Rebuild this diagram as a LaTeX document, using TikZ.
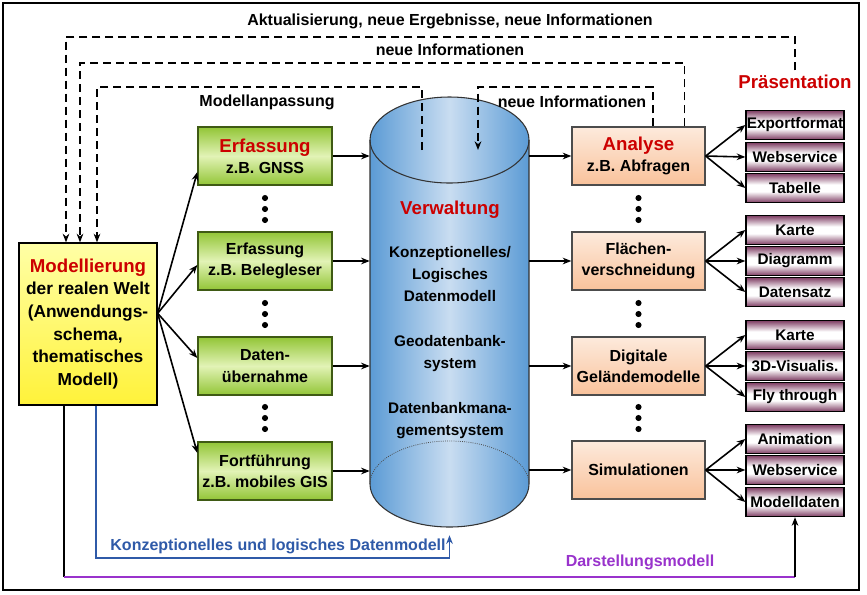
\documentclass[tikz,border=0pt]{standalone}
\usepackage{fontspec}
\setmainfont{Liberation Sans}
\usetikzlibrary{arrows.meta,positioning,calc}

\definecolor{GeoRed}{HTML}{CC0000}
\definecolor{GeoBlue}{HTML}{2F5AA8}
\definecolor{GeoViolet}{HTML}{9933CC}
\definecolor{GeoGreen}{HTML}{92C536}
\definecolor{GeoGreenLight}{HTML}{E2F3B6}
\definecolor{GeoGreenDark}{HTML}{3F5A14}
\definecolor{GeoPeach}{HTML}{FDEADC}
\definecolor{GeoOrange}{HTML}{F9C29B}
\definecolor{GeoYellow}{HTML}{FFF23A}
\definecolor{GeoYellowLight}{HTML}{FFFFA6}
\definecolor{GeoCylBlue}{HTML}{5B9BD5}
\definecolor{GeoCylLight}{HTML}{C9DDF1}
\definecolor{GeoMauve}{HTML}{7E3D63}

\pgfdeclareverticalshading{greenshade}{100bp}{color(0bp)=(GeoGreen); color(25bp)=(GeoGreen); color(50bp)=(GeoGreenLight); color(75bp)=(GeoGreen); color(100bp)=(GeoGreen)}
\pgfdeclareverticalshading{tubeshade}{100bp}{color(0bp)=(GeoMauve); color(25bp)=(GeoMauve); color(44bp)=(white); color(56bp)=(white); color(75bp)=(GeoMauve); color(100bp)=(GeoMauve)}

\newcommand{\boxtitle}[1]{{\color{GeoRed}\fontsize{14}{16}\selectfont #1}}

\tikzset{
    % Base box style
    basebox/.style={
        draw=black,
        line width=1pt,
        align=center,
        inner sep=2pt,
        font=\bfseries\fontsize{12}{16}\selectfont
    },
    % Modelling box
    modelbox/.style={
        basebox,
        top color=GeoYellowLight,
        bottom color=GeoYellow,
        minimum width=103.5pt,
        minimum height=121.5pt,
        font=\bfseries\fontsize{13}{17}\selectfont
    },
    % Data capture boxes
    capturebox/.style={
        basebox,
        draw=GeoGreenDark,
        shade,
        shading=greenshade,
        minimum width=100.5pt,
        minimum height=43.5pt
    },
    % Analysis boxes
    analysisbox/.style={
        basebox,
        draw=black!70,
        top color=GeoPeach,
        bottom color=GeoOrange,
        minimum width=99.75pt,
        minimum height=43.5pt
    },
    % Presentation output boxes
    outputbox/.style={
        basebox,
        shade,
        shading=tubeshade,
        minimum width=73.5pt,
        minimum height=21.75pt,
        inner xsep=0pt,
        inner ysep=0pt,
        font=\bfseries\fontsize{11.5}{13}\selectfont
    },
    % Text inside the database
    dbtext/.style={
        align=center,
        font=\bfseries\fontsize{11.5}{16.5}\selectfont
    },
    % Free labels
    toplabel/.style={
        font=\bfseries\fontsize{12}{14}\selectfont
    },
    % Arrow styles
    myarrow/.style={
        ->,
        >={Stealth[length=6.5pt,width=5pt]},
        line width=1.2pt
    },
    dasharrow/.style={
        myarrow,
        dash pattern=on 6pt off 3.75pt
    }
}

\begin{document}
\begin{tikzpicture}[x=0.75pt, y=-0.75pt]
    \fill[white] (0,0) rectangle (867,594);
    \useasboundingbox (0,0) rectangle (867,594);
    \draw[line width=1.2pt] (3,3) rectangle (859,590);

    % Modellierung
    \node[modelbox] (model) at (88,324) {\boxtitle{Modellierung}\\der realen Welt\\(Anwendungs-\\schema,\\thematisches\\Modell)};

    % Erfassung
    \node[capturebox] (gnss) at (265,156) {\boxtitle{Erfassung}\\z.B. GNSS};
    \node[capturebox] (beleg) at (265,261) {Erfassung\\z.B. Belegleser};
    \node[capturebox] (import) at (265,366) {Daten-\\übernahme};
    \node[capturebox] (update) at (265,471) {Fortführung\\z.B. mobiles GIS};

    % Verwaltung (cylinder)
    \path[draw=black!80, line width=0.8pt, left color=GeoCylBlue, right color=GeoCylBlue, middle color=GeoCylLight]
        (370,140) -- (370,484) arc[start angle=180, end angle=360, x radius=59.625pt, y radius=32.25pt]
        -- (529,140) arc[start angle=0, end angle=180, x radius=59.625pt, y radius=32.25pt] -- cycle;
    \draw[black!80, line width=0.8pt] (370,140) arc[start angle=180, end angle=360, x radius=59.625pt, y radius=32.25pt];
    \draw[black!70, densely dotted, line width=0.6pt] (370,484) arc[start angle=180, end angle=0, x radius=59.625pt, y radius=32.25pt];
    \node[minimum width=119.25pt, minimum height=324pt, inner sep=0pt] (db) at (449.5,313) {};

    \node[dbtext, text=GeoRed, font=\bfseries\fontsize{14}{16}\selectfont] (verw) at (450,210) {Verwaltung};
    \node[dbtext] (ldm) at (450,274) {Konzeptionelles/\\Logisches\\Datenmodell};
    \node[dbtext] (gdbs) at (450,354) {Geodatenbank-\\system};
    \node[dbtext] (dbms) at (450,421) {Datenbankmana-\\gementsystem};

    % Analyse
    \node[analysisbox] (query) at (638.5,156) {\boxtitle{Analyse}\\z.B. Abfragen};
    \node[analysisbox] (overlay) at (638.5,261) {Flächen-\\verschneidung};
    \node[analysisbox] (dgm) at (638.5,366) {Digitale\\Geländemodelle};
    \node[analysisbox] (sim) at (638.5,470) {Simulationen};

    % Präsentation
    \node[outputbox] (exp) at (795,125) {Exportformat};
    \node[outputbox] (ws1) at (795,157) {Webservice};
    \node[outputbox] (tab) at (795,188) {Tabelle};
    \node[outputbox] (map1) at (795,230) {Karte};
    \node[outputbox] (diag) at (795,261) {Diagramm};
    \node[outputbox] (rec) at (795,292) {Datensatz};
    \node[outputbox] (map2) at (795,335) {Karte};
    \node[outputbox] (vis) at (795,366) {3D-Visualis.};
    \node[outputbox] (fly) at (795,397) {Fly through};
    \node[outputbox] (anim) at (795,439) {Animation};
    \node[outputbox] (ws2) at (795,470) {Webservice};
    \node[outputbox] (mdata) at (795,502) {Modelldaten};

    % Labels
    \node[toplabel] (upd) at (450,21) {Aktualisierung, neue Ergebnisse, neue Informationen};
    \node[toplabel] (newinfo) at (450,50) {neue Informationen};
    \node[toplabel] (adapt) at (267,102) {Modellanpassung};
    \node[toplabel] (newinfo2) at (572,102) {neue Informationen};
    \node[toplabel, text=GeoRed, font=\bfseries\fontsize{14}{16}\selectfont] (praes) at (795,82) {Präsentation};
    \node[toplabel, text=GeoBlue] (cdm) at (278,546) {Konzeptionelles und logisches Datenmodell};
    \node[toplabel, text=GeoViolet] (dm) at (640,562) {Darstellungsmodell};

    % dots
    \foreach \x in {265,638.5}
        \foreach \y in {209,314,418}
            \foreach \d in {-11,0,11}
                \fill (\x,{\y+\d}) circle[radius=2.3pt];

    % Modellierung -> Erfassung
    \draw[myarrow] ([yshift=8pt]model.east) -- ([yshift=-12pt]gnss.west);
    \draw[myarrow] ([yshift=8pt]model.east) -- ([yshift=-3pt]beleg.west);
    \draw[myarrow] ([yshift=8pt]model.east) -- ([yshift=6pt]import.west);
    \draw[myarrow] ([yshift=8pt]model.east) -- ([yshift=13.5pt]update.west);

    % Erfassung -> Verwaltung -> Analyse
    \draw[myarrow] (gnss.east) -- (gnss -| db.west);
    \draw[myarrow] (beleg.east) -- (beleg -| db.west);
    \draw[myarrow] (import.east) -- (import -| db.west);
    \draw[myarrow] (update.east) -- (update -| db.west);
    \draw[myarrow] (query -| db.east) -- (query.west);
    \draw[myarrow] (overlay -| db.east) -- (overlay.west);
    \draw[myarrow] (dgm -| db.east) -- (dgm.west);
    \draw[myarrow] (sim -| db.east) -- (sim.west);

    % Analyse -> Präsentation
    \draw[myarrow] (query.east) -- (exp.west);
    \draw[myarrow] (query.east) -- (ws1.west);
    \draw[myarrow] (query.east) -- (tab.west);
    \draw[myarrow] (overlay.east) -- (map1.west);
    \draw[myarrow] (overlay.east) -- (diag.west);
    \draw[myarrow] (overlay.east) -- (rec.west);
    \draw[myarrow] (dgm.east) -- (map2.west);
    \draw[myarrow] (dgm.east) -- (vis.west);
    \draw[myarrow] (dgm.east) -- (fly.west);
    \draw[myarrow] (sim.east) -- (anim.west);
    \draw[myarrow] (sim.east) -- (ws2.west);
    \draw[myarrow] (sim.east) -- (mdata.west);

    % feedback loops
    \coordinate (rail1) at (0,37);
    \coordinate (rail2) at (0,63);
    \coordinate (rail3) at (0,87);
    \coordinate (rail4) at (0,558);
    \coordinate (rail5) at (0,577);
    \coordinate (dbin1) at (422,150);
    \coordinate (dbin2) at (478,150);

    \draw[dasharrow] (praes.north) -- (praes.north |- rail1) -| ([xshift=-16.5pt]model.north);
    \draw[dasharrow] ([xshift=34.5pt]query.north) -- ([xshift=34.5pt]query.north |- rail2) -| ([xshift=-6pt]model.north);
    \draw[dasharrow] (dbin1) -- (dbin1 |- rail3) -| ([xshift=6.75pt]model.north);
    \draw[dasharrow] ([xshift=10.9pt]query.north) -- ([xshift=10.9pt]query.north |- rail3) -| (dbin2);

    % bottom lines
    \draw[myarrow, GeoBlue, line width=1pt, shorten >=4.5pt] ([xshift=6pt]model.south) -- ([xshift=6pt]model.south |- rail4) -| (db.south);
    \draw[line width=1.2pt] ([xshift=-18pt]model.south) -- ([xshift=-18pt]model.south |- rail5) coordinate (bl);
    \draw[line width=1.5pt, GeoViolet] (bl) -- (bl -| mdata.south) coordinate (br);
    \draw[myarrow] (br) -- (mdata.south);
\end{tikzpicture}
\end{document}
